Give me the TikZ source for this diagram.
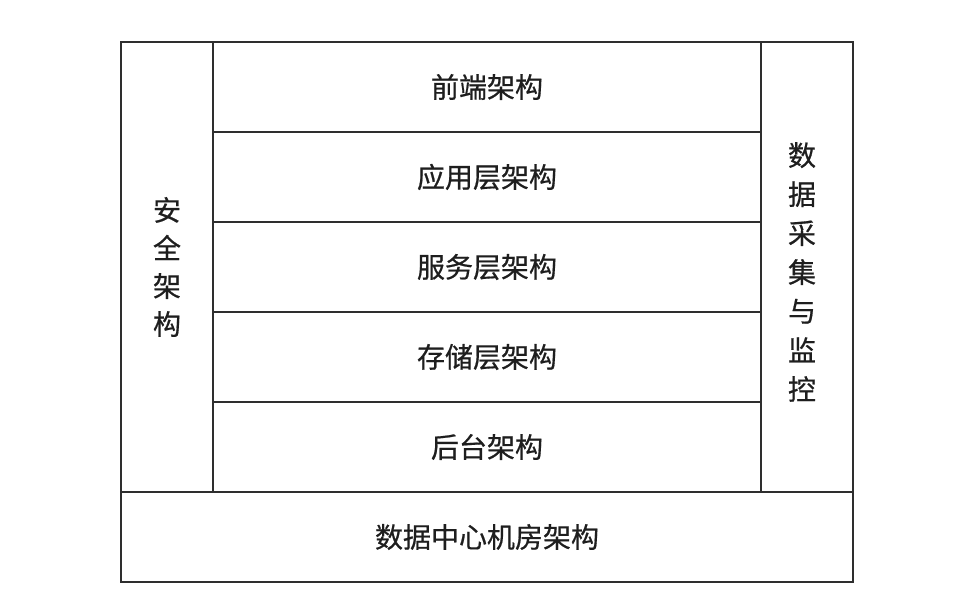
\documentclass[tikz,border=0pt]{standalone}
\usepackage{fontspec}
\setmainfont[FakeBold=0.6]{Noto Sans CJK SC}
\definecolor{linec}{HTML}{2E2E2E}
\definecolor{textc}{HTML}{1E1E1E}
\begin{document}
\begin{tikzpicture}[x=1pt,y=-1pt,
  lbl/.style={inner sep=0pt, outer sep=0pt, text=textc,
    font=\fontsize{28}{38}\selectfont, align=center},
  box/.style={lbl, draw=linec, line width=2pt},
  rowbox/.style={box, minimum width=548pt, minimum height=90pt},
  colbox/.style={box, minimum width=92pt, minimum height=450pt}]
\useasboundingbox (0,0) rectangle (974,610);
\fill[white] (0,0) rectangle (974,610);
\node[colbox] (sec) at (167,267) {安\\全\\架\\构};
\node[colbox] (mon) at (807,267) {};
\node[lbl, font=\fontsize{28}{39}\selectfont] (montext) at (802,272) {数\\据\\采\\集\\与\\监\\控};
\node[rowbox] (r1) at (487,87) {前端架构};
\node[rowbox] (r2) at (487,177) {应用层架构};
\node[rowbox] (r3) at (487,267) {服务层架构};
\node[rowbox] (r4) at (487,357) {存储层架构};
\node[rowbox] (r5) at (487,447) {后台架构};
\node[box, minimum width=732pt, minimum height=90pt] (dc) at (487,537) {数据中心机房架构};
\end{tikzpicture}
\end{document}
